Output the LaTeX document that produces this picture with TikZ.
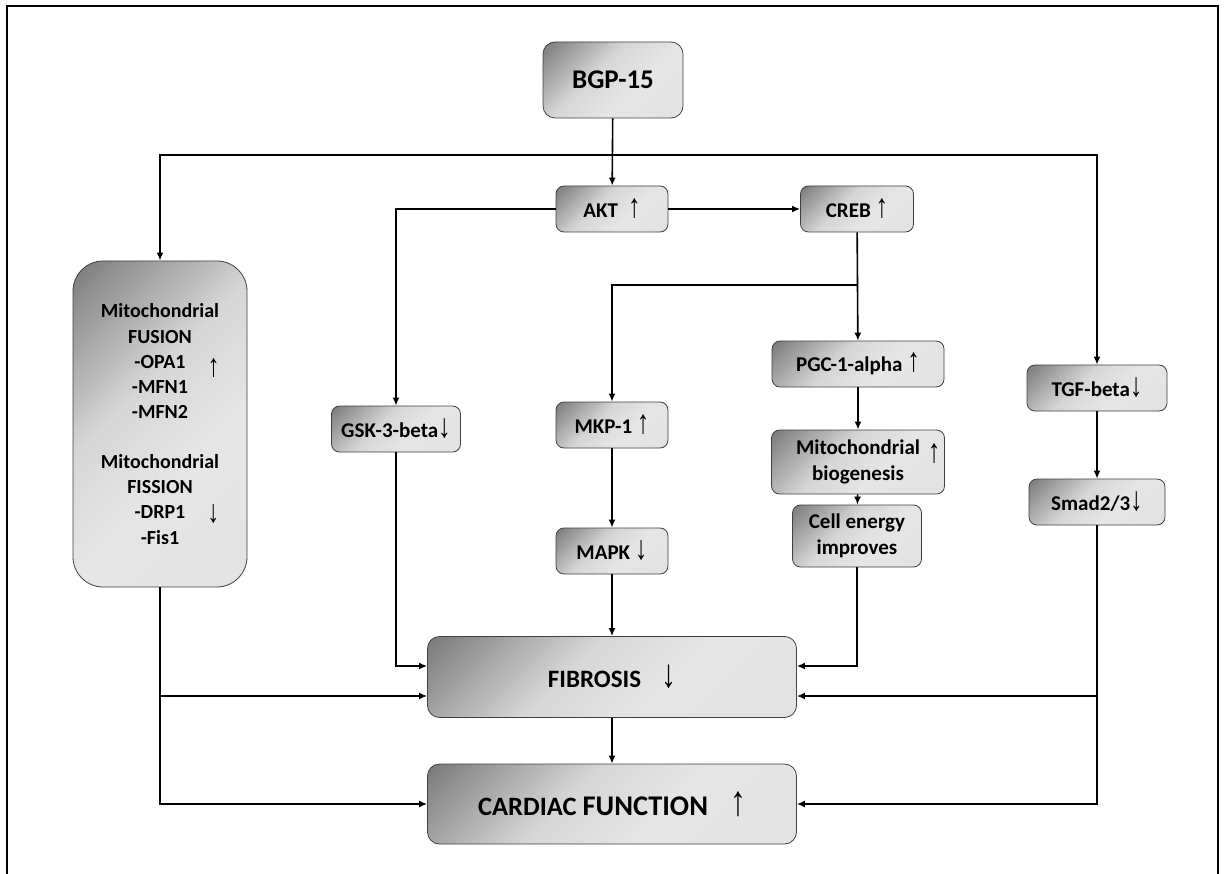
\documentclass[tikz,border=0pt]{standalone}
\usepackage{fontspec}
\usepackage{graphicx}
\setmainfont{Carlito}
\newfontfamily\arrowfont{Liberation Sans}
\usetikzlibrary{arrows.meta,positioning}
\newcommand{\upar}{\scalebox{1.2}[1.6]{\arrowfont ↑}}
\newcommand{\dnar}{\scalebox{1.2}[1.6]{\arrowfont ↓}}
\pgfdeclareverticalshading{boxshade}{100bp}{color(0bp)=(black!12); color(40bp)=(black!10);
  color(58bp)=(black!16); color(85bp)=(black!52); color(100bp)=(black!58)}

\begin{document}
\begin{tikzpicture}[x=1pt,y=-1pt,
  box/.style={draw=black!75,line width=0.8pt,rounded corners=8pt,
    shading=boxshade,shading angle=45,
    font=\bfseries\fontsize{21}{26}\selectfont,align=center,inner sep=0pt,
    minimum height=46pt},
  link/.style={line width=1.6pt,-{Latex[length=8pt,width=7pt]}},
  wire/.style={line width=1.6pt}]

\useasboundingbox (0,0) rectangle (1225,874);
\draw[line width=2.5pt] (7,874) -- (7,6) -- (1218,6) -- (1218,874);

% main column
\node[box,rounded corners=12pt,minimum width=140pt,minimum height=76pt,
      font=\bfseries\fontsize{27}{32}\selectfont] (bgp) at (613,80) {BGP-15};
\node[box,minimum width=112pt] (akt) at (612,209) {AKT\hspace{10pt}\upar};
\node[box,minimum width=113pt] (creb) at (857,209) {CREB \upar};
\node[box,minimum width=129pt] (gsk) at (396,429) {GSK-3-beta\dnar};
\node[box,minimum width=112pt] (mkp) at (612,425) {MKP-1 \upar};
\node[box,minimum width=112pt] (mapk) at (612,551) {MAPK \dnar};
\node[box,minimum width=172pt] (pgc) at (858,364) {PGC-1-alpha \upar};
\node[box,minimum width=173pt,minimum height=64pt] (biogen) at (858,462)
  {Mitochondrial\rlap{\hspace{8pt}\raisebox{-8pt}{\upar}}\\biogenesis};
\node[box,minimum width=129pt,minimum height=62pt] (energy) at (857,536)
  {Cell energy\\improves};
\node[box,minimum width=140pt] (tgf) at (1097,388) {TGF-beta\dnar};
\node[box,minimum width=136pt] (smad) at (1097,502) {Smad2/3\dnar};
\node[box,rounded corners=30pt,minimum width=174pt,minimum height=326pt,
      font=\bfseries\fontsize{20}{25.3}\selectfont] (mito) at (160,424)
  {Mitochondrial\\FUSION\\-OPA1\rlap{\hspace{22pt}\raisebox{-8pt}{\upar}}\\-MFN1\\-MFN2\\[24pt]
   Mitochondrial\\FISSION\\-DRP1\rlap{\hspace{22pt}\raisebox{-4pt}{\dnar}}\\-Fis1};
\node[box,rounded corners=12pt,minimum width=369pt,minimum height=81pt,
      font=\bfseries\fontsize{25}{30}\selectfont] (fib) at (612,677)
  {FIBROSIS\hspace{20pt}\dnar};
\node[box,rounded corners=12pt,minimum width=369pt,minimum height=80pt,
      font=\bfseries\fontsize{26.5}{30}\selectfont] (card) at (612,804)
  {CARDIAC {\fontsize{28.5}{30}\selectfont FUNCTION}\hspace{22pt}\upar};

% connectors
\coordinate (top) at (613,155);
\draw[link] (bgp) -- (akt);
\draw[link] (top) -| (mito.north);
\draw[link] (top) -| (tgf.north);
\draw[link] (akt) -- (creb);
\draw[link] (akt.west) -| (gsk.north);
\draw[link] (creb) -- (pgc);
\coordinate (split) at (creb.south |- 0,285);
\draw[link] (split) -| (mkp.north);
\draw[link] (pgc) -- (biogen);
\draw[link] (biogen) -- (energy);
\draw[link] (mkp) -- (mapk);
\draw[link] (mapk) -- (fib);
\draw[link] (tgf) -- (smad);
\draw[link] (gsk) |- (fib.west |- 0,666);
\draw[link] (energy) |- (fib.east |- 0,666);
\draw[link] (mito) |- (card.west);
\draw[link] (mito.south |- 0,696) -- (fib.west |- 0,696);
\draw[link] (smad) |- (card.east);
\draw[link] (smad.south |- 0,696) -- (fib.east |- 0,696);
\draw[link] (fib) -- (card);

\end{tikzpicture}
\end{document}
